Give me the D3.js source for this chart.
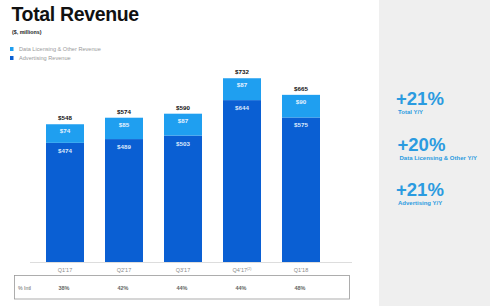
<!DOCTYPE html>
<html>
<head>
<meta charset="utf-8">
<script src="https://cdn.jsdelivr.net/npm/d3@7"></script>
<style>
  body { margin: 0; background: #fff; }
  svg { display: block; font-family: "Liberation Sans", Arial, sans-serif; }
</style>
</head>
<body>
<div id="chart"></div>
<script>
/**
 * CONSTANTS AND DATA
 * */
const width = 490,
  height = 306;

const quarters = ["Q1'17", "Q2'17", "Q3'17", "Q4'17", "Q1'18"];
const advertising = [474, 489, 503, 644, 575];
const dataLicensing = [74, 85, 87, 87, 90];
const totals = [548, 574, 590, 732, 665];
const intlShare = [38, 42, 44, 44, 48];

const seriesNames = ["Data Licensing & Other Revenue", "Advertising Revenue"];
const kpiValues = ["+21%", "+20%", "+21%"];
const kpiLabels = ["Total Y/Y", "Data Licensing & Other Y/Y", "Advertising Y/Y"];

const colors = { ad: "#0a5fd3", data: "#1f9ff0", kpi: "#2b9be0" };

const svg = d3.select("#chart")
  .append("svg")
  .attr("width", width)
  .attr("height", height);

// right grey panel
svg.append("rect")
  .attr("x", 379).attr("y", 0)
  .attr("width", width - 379).attr("height", height)
  .attr("fill", "#efefef");

// title
svg.append("text")
  .attr("x", 11.5).attr("y", 21)
  .attr("font-size", 19.5).attr("font-weight", "bold")
  .attr("letter-spacing", -0.35)
  .attr("fill", "#111")
  .text("Total Revenue");

svg.append("text")
  .attr("x", 12).attr("y", 34)
  .attr("font-size", 5.3).attr("font-weight", "bold")
  .attr("fill", "#222")
  .text("($, millions)");

// legend
const legend = svg.selectAll("g.legend")
  .data(seriesNames)
  .join("g")
  .attr("class", "legend")
  .attr("transform", (d, i) => `translate(10,${47 + i * 9})`);

legend.append("rect")
  .attr("width", 3.5).attr("height", 4)
  .attr("fill", (d, i) => i === 0 ? colors.data : colors.ad);

legend.append("text")
  .attr("x", 9).attr("y", 3.8)
  .attr("font-size", 5.6).attr("fill", "#9a9a9a")
  .text(d => d);

/**
 * SCALES
 * */
const x = d3.scaleBand()
  .domain(quarters)
  .range([25, 341])
  .padding(0.356);

const y = d3.scaleLinear()
  .domain([0, 732])
  .range([262, 78]);

// baseline
svg.append("line")
  .attr("x1", 30).attr("x2", 352)
  .attr("y1", 262.5).attr("y2", 262.5)
  .attr("stroke", "#ddd").attr("stroke-width", 1);

const bars = svg.selectAll("g.bar")
  .data(quarters)
  .join("g")
  .attr("class", "bar")
  .attr("transform", d => `translate(${x(d)},0)`);

// advertising segment
bars.append("rect")
  .attr("y", (d, i) => y(advertising[i]))
  .attr("width", x.bandwidth())
  .attr("height", (d, i) => y(0) - y(advertising[i]))
  .attr("fill", colors.ad);

// data licensing segment
bars.append("rect")
  .attr("y", (d, i) => y(advertising[i] + dataLicensing[i]))
  .attr("width", x.bandwidth())
  .attr("height", (d, i) => y(advertising[i]) - y(advertising[i] + dataLicensing[i]))
  .attr("fill", colors.data);

// segment labels
bars.append("text")
  .attr("x", x.bandwidth() / 2)
  .attr("y", (d, i) => y(advertising[i] + dataLicensing[i]) + 9)
  .attr("text-anchor", "middle")
  .attr("font-size", 6.2).attr("font-weight", "bold")
  .attr("fill", "#e6f2ff")
  .text((d, i) => `$${dataLicensing[i]}`);

bars.append("text")
  .attr("x", x.bandwidth() / 2)
  .attr("y", (d, i) => y(advertising[i]) + 10)
  .attr("text-anchor", "middle")
  .attr("font-size", 6.2).attr("font-weight", "bold")
  .attr("fill", "#dce9fb")
  .text((d, i) => `$${advertising[i]}`);

// totals
bars.append("text")
  .attr("x", x.bandwidth() / 2)
  .attr("y", (d, i) => y(totals[i]) - 4)
  .attr("text-anchor", "middle")
  .attr("font-size", 6.2).attr("font-weight", "bold")
  .attr("fill", "#111")
  .text((d, i) => `$${totals[i]}`);

// category labels
const cat = svg.selectAll("text.cat")
  .data(quarters)
  .join("text")
  .attr("class", "cat")
  .attr("x", d => x(d) + x.bandwidth() / 2)
  .attr("y", 272)
  .attr("text-anchor", "middle")
  .attr("font-size", 5.5)
  .attr("fill", "#8a8a8a")
  .text(d => d);

cat.filter(d => d === "Q4'17")
  .append("tspan")
  .attr("dy", -2).attr("font-size", 3.5)
  .text("(2)");

// % Intl table
svg.append("rect")
  .attr("x", 14.5).attr("y", 275.5)
  .attr("width", 335).attr("height", 23.5)
  .attr("fill", "none")
  .attr("stroke", "#9a9a9a").attr("stroke-width", 0.8);

svg.append("text")
  .attr("x", 18).attr("y", 290)
  .attr("font-size", 5.2).attr("fill", "#666")
  .text("% Intl");

svg.selectAll("text.intl")
  .data(quarters)
  .join("text")
  .attr("class", "intl")
  .attr("x", d => x(d) + x.bandwidth() / 2 - 1)
  .attr("y", 290)
  .attr("text-anchor", "middle")
  .attr("font-size", 5.5).attr("font-weight", "bold")
  .attr("fill", "#666")
  .text((d, i) => `${intlShare[i]}%`);

// KPI panel
const kpi = svg.selectAll("g.kpi")
  .data(kpiValues)
  .join("g")
  .attr("class", "kpi")
  .attr("transform", (d, i) => `translate(${i === 1 ? 397.5 : 396},${105 + i * 45.5})`);

kpi.append("text")
  .attr("font-size", 18.5).attr("font-weight", "bold")
  .attr("fill", colors.kpi)
  .text(d => d);

kpi.append("text")
  .attr("x", 2).attr("y", 9)
  .attr("font-size", 6).attr("font-weight", "bold")
  .attr("fill", colors.kpi)
  .text((d, i) => kpiLabels[i]);
</script>
</body>
</html>
